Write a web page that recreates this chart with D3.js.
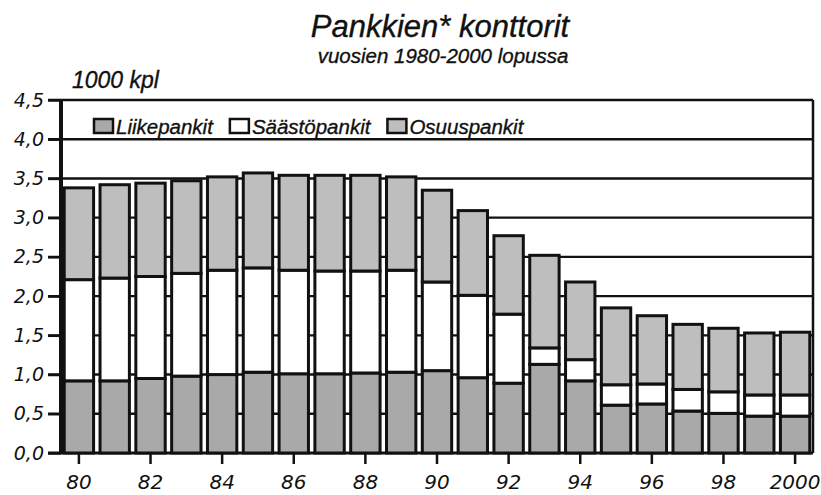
<!DOCTYPE html>
<html>
<head>
<meta charset="utf-8">
<script src="https://cdn.jsdelivr.net/npm/d3@7"></script>
<style>
  body { margin: 0; background: #fff; }
  svg { display: block; }
  .t { font-family: "Liberation Sans", Arial, sans-serif; font-style: italic; fill: #111; stroke: #111; stroke-width: 0.35px; }
  .tick-lbl { font-family: "DejaVu Sans", sans-serif; font-style: oblique; fill: #111; }
</style>
</head>
<body>
<svg id="chart" width="821" height="495"></svg>
<script>
// data, 1000 kpl at year end
const years = [1980, 1981, 1982, 1983, 1984, 1985, 1986, 1987, 1988, 1989, 1990,
  1991, 1992, 1993, 1994, 1995, 1996, 1997, 1998, 1999, 2000];
const liikepankit = [0.92, 0.92, 0.95, 0.98, 1.00, 1.03, 1.01, 1.01, 1.02, 1.03, 1.05,
  0.96, 0.89, 1.13, 0.92, 0.61, 0.625, 0.535, 0.505, 0.47, 0.47];
const saastopankit = [1.29, 1.31, 1.30, 1.31, 1.33, 1.33, 1.32, 1.31, 1.30, 1.30, 1.13,
  1.05, 0.88, 0.21, 0.27, 0.26, 0.255, 0.275, 0.275, 0.27, 0.27];
const osuuspankit = [1.17, 1.19, 1.19, 1.18, 1.19, 1.21, 1.21, 1.22, 1.22, 1.19, 1.17,
  1.08, 1.00, 1.18, 0.99, 0.98, 0.87, 0.83, 0.81, 0.79, 0.80];
const yTicks = [0, 0.5, 1, 1.5, 2, 2.5, 3, 3.5, 4, 4.5];
const xTicks = [1980, 1982, 1984, 1986, 1988, 1990, 1992, 1994, 1996, 1998, 2000];
const seriesNames = ["Liikepankit", "Säästöpankit", "Osuuspankit"];
const colors = ["#a9a9a9", "#ffffff", "#bebebe"];

const svg = d3.select("#chart");
const margin = { top: 100, right: 8, bottom: 42, left: 61 };
const width = 821, height = 495;

const x = d3.scaleBand()
  .domain(years)
  .range([margin.left, width - margin.right])
  .paddingInner(0.18)
  .paddingOuter(0.09);

const y = d3.scaleLinear()
  .domain([0, 4.5])
  .range([height - margin.bottom, margin.top]);

// titles
svg.append("text").attr("class", "t")
  .attr("x", 440).attr("y", 37)
  .attr("text-anchor", "middle")
  .style("font-size", "31px")
  .text("Pankkien* konttorit");
svg.append("text").attr("class", "t")
  .attr("x", 443).attr("y", 63)
  .attr("text-anchor", "middle")
  .style("font-size", "20.5px")
  .text("vuosien 1980-2000 lopussa");
svg.append("text").attr("class", "t")
  .attr("x", 72).attr("y", 88)
  .style("font-size", "23px")
  .text("1000 kpl");

// grid lines behind bars
svg.append("g")
  .selectAll("line")
  .data(yTicks)
  .join("line")
  .attr("x1", 48)
  .attr("x2", width - margin.right)
  .attr("y1", (d) => y(d))
  .attr("y2", (d) => y(d))
  .attr("stroke", "#111")
  .attr("stroke-width", (d) => (d === 0 ? 3 : 2.4));

// stacked bars
const table = years.map((yr, i) => ({
  year: yr,
  Liikepankit: liikepankit[i],
  "Säästöpankit": saastopankit[i],
  Osuuspankit: osuuspankit[i],
}));
const stacked = d3.stack().keys(seriesNames)(table);

svg.append("g")
  .selectAll("g")
  .data(stacked)
  .join("g")
  .attr("fill", (d, i) => colors[i])
  .selectAll("rect")
  .data((d) => d)
  .join("rect")
  .attr("x", (d) => x(d.data.year))
  .attr("width", x.bandwidth())
  .attr("y", (d) => y(d[1]))
  .attr("height", (d) => y(d[0]) - y(d[1]))
  .attr("stroke", "#111")
  .attr("stroke-width", 3);

// left axis
const yAxis = svg.append("g")
  .attr("transform", `translate(${margin.left},0)`)
  .call(d3.axisLeft(y)
    .tickValues(yTicks)
    .tickSize(13)
    .tickPadding(4)
    .tickFormat((d) => d3.format(".1f")(d).replace(".", ",")));
yAxis.select(".domain").attr("stroke", "#111").attr("stroke-width", 4)
  .attr("d", `M0,${y(4.5)}V${y(0)}`);
yAxis.selectAll(".tick line").attr("stroke", "#111").attr("stroke-width", 2.4);
yAxis.selectAll(".tick text")
  .attr("class", "tick-lbl")
  .style("font-size", "19px")
  .attr("font-family", null);

// bottom axis
const xAxis = svg.append("g")
  .attr("transform", `translate(0,${height - margin.bottom})`)
  .call(d3.axisBottom(x)
    .tickValues(xTicks)
    .tickSize(11)
    .tickPadding(11)
    .tickFormat((d) => (d === 2000 ? "2000" : String(d).slice(2))));
xAxis.select(".domain").remove();
xAxis.selectAll(".tick line").attr("stroke", "#111").attr("stroke-width", 2.5);
xAxis.selectAll(".tick text")
  .attr("class", "tick-lbl")
  .style("font-size", "20px")
  .attr("font-family", null);

// right frame
svg.append("line")
  .attr("x1", width - margin.right).attr("x2", width - margin.right)
  .attr("y1", y(4.5)).attr("y2", y(0))
  .attr("stroke", "#111").attr("stroke-width", 2.5);

// legend
const legend = svg.append("g").attr("transform", "translate(94,119)");
let lx = 0;
seriesNames.forEach((name, i) => {
  legend.append("rect")
    .attr("x", lx).attr("y", 0)
    .attr("width", 19).attr("height", 14)
    .attr("fill", colors[i])
    .attr("stroke", "#111").attr("stroke-width", 2.5);
  const txt = legend.append("text").attr("class", "t")
    .attr("x", lx + 22).attr("y", 15)
    .style("font-size", "20.5px")
    .text(name);
  lx += 22 + txt.node().getComputedTextLength() + 17;
});
</script>
</body>
</html>
